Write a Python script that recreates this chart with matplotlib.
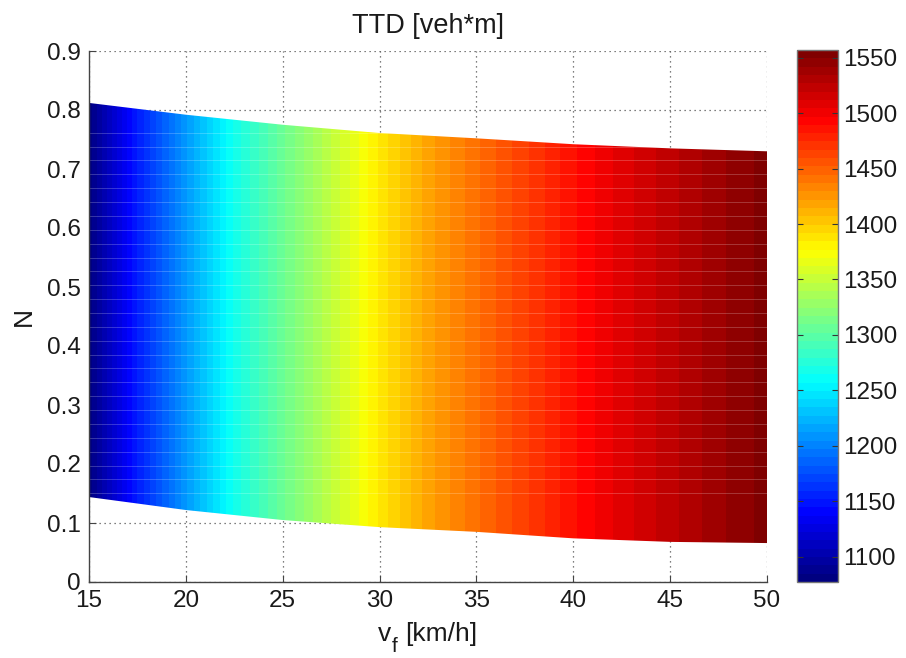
import numpy as np
import matplotlib
matplotlib.use("Agg")
import matplotlib.pyplot as plt
from matplotlib.patches import Polygon
from matplotlib.colors import LinearSegmentedColormap

plt.rcParams['font.family'] = ['Liberation Sans', 'DejaVu Sans']

# ---- data ----
vf_cols = [15, 17.5, 20, 22.5, 25, 27.5, 30, 32.5, 35, 37.5, 40, 42.5, 45, 47.5, 50]
ttd_vals = [1080, 1152, 1210, 1266, 1307, 1347, 1386, 1418, 1443, 1465, 1488, 1508, 1524, 1540, 1553]

vf_bound = [15, 20, 25, 30, 35, 40, 45, 50]
n_upper = [0.812, 0.792, 0.775, 0.761, 0.752, 0.742, 0.735, 0.730]
n_lower = [0.144, 0.122, 0.105, 0.093, 0.085, 0.074, 0.068, 0.066]

cbar_ticks = [1100, 1150, 1200, 1250, 1300, 1350, 1400, 1450, 1500, 1550]
clim = (1077, 1557)

# MATLAB-style jet, 64 levels
mjet = {
    'red':   [(0, 0, 0), (3/8, 0, 0), (5/8, 1, 1), (7/8, 1, 1), (1, 0.5, 0.5)],
    'green': [(0, 0, 0), (1/8, 0, 0), (3/8, 1, 1), (5/8, 1, 1), (7/8, 0, 0), (1, 0, 0)],
    'blue':  [(0, 0.5, 0.5), (1/8, 1, 1), (3/8, 1, 1), (5/8, 0, 0), (1, 0, 0)],
}
cmap = LinearSegmentedColormap('mjet', mjet, N=64)

txt = '#1a1a1a'
W, H = 906, 658
fig = plt.figure(figsize=(W / 100, H / 100), dpi=100)
ax = fig.add_axes([89 / W, 1 - 582 / H, (767 - 89) / W, (582 - 51) / H])
cax = fig.add_axes([797 / W, 1 - 582 / H, (838 - 797) / W, (582 - 50) / H])

Z = np.tile(np.array(ttd_vals, dtype=float), (2, 1))
step = vf_cols[1] - vf_cols[0]
im = ax.imshow(Z, cmap=cmap, vmin=clim[0], vmax=clim[1], aspect='auto',
               extent=[vf_cols[0] - step / 2, vf_cols[-1] + step / 2, 0, 0.9],
               origin='lower', interpolation='bilinear', interpolation_stage='data',
               zorder=1)
verts = list(zip(vf_bound, n_upper)) + list(zip(vf_bound[::-1], n_lower[::-1]))
poly = Polygon(verts, closed=True, transform=ax.transData, facecolor='none', edgecolor='none')
ax.add_patch(poly)
im.set_clip_path(poly)

# faint row lines of the surface
rows = np.arange(0.1503, 0.77, 0.02351)
hl = ax.hlines(rows, 15, 50, colors='white', alpha=0.22, lw=0.7, zorder=2)
hl.set_clip_path(poly)

ax.set_xlim(15, 50)
ax.set_ylim(0, 0.9)
ax.set_xticks(np.arange(15, 51, 5))
ax.set_yticks(np.round(np.arange(0, 0.91, 0.1), 1))
ax.set_yticklabels(['0'] + [f'{v:.1f}' for v in np.arange(0.1, 0.91, 0.1)])
ax.set_axisbelow(True)
ax.grid(True, linestyle=(0, (1, 3)), color='#555555', linewidth=0.9)
for s in ['top', 'right']:
    ax.spines[s].set_visible(False)
for s in ['left', 'bottom']:
    ax.spines[s].set_color('#444444')
    ax.spines[s].set_linewidth(1.0)
ax.tick_params(direction='in', length=5, color='#444444', labelsize=17.5,
               labelcolor=txt, pad=6)
ax.set_title('TTD [veh*m]', fontsize=19.5, color=txt, pad=13)
ax.set_ylabel('N', fontsize=19, color=txt, labelpad=8)

# x label: v with a large, low subscript f
fig.text(378 / W, 1 - 641 / H, 'v', fontsize=19, color=txt, ha='left', va='baseline')
fig.text(392 / W, 1 - 652 / H, 'f', fontsize=15, color=txt, ha='left', va='baseline')
fig.text(405 / W, 1 - 641 / H, '[km/h]', fontsize=19, color=txt, ha='left', va='baseline')

cb = fig.colorbar(im, cax=cax)
cb.set_ticks(cbar_ticks)
cb.outline.set_edgecolor('#777777')
cb.outline.set_linewidth(1.0)
cax.tick_params(direction='in', length=4, color='#333333', labelsize=17.5,
                labelcolor=txt, pad=4, left=True, right=True)

fig.savefig('out.png', dpi=100)
